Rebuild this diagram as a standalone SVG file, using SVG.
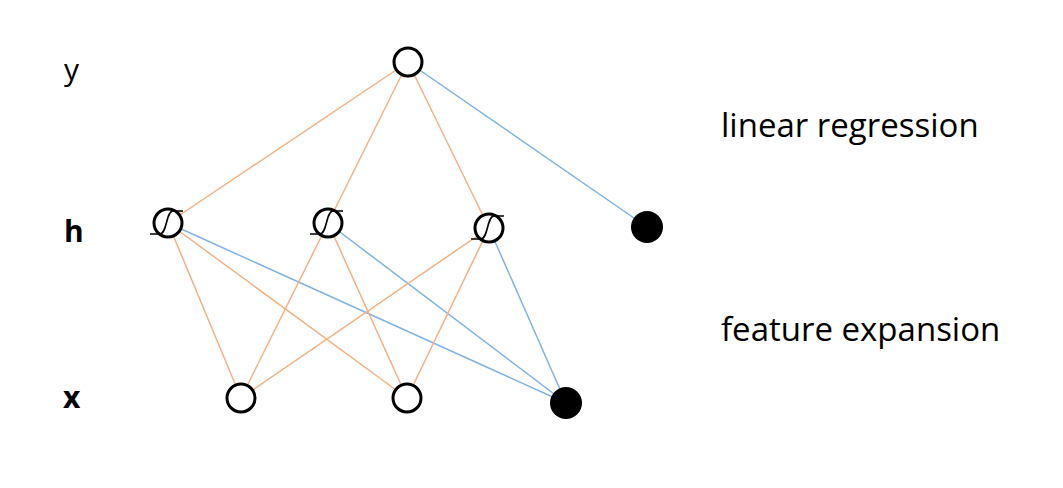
<svg xmlns="http://www.w3.org/2000/svg" width="1063" height="488" viewBox="0 0 1063 488">
<style>
.o{stroke:#f4b183;stroke-width:1.5;fill:none}
.b{stroke:#7fb2e5;stroke-width:1.5;fill:none}
.n{fill:#fff;stroke:#000;stroke-width:3}
.f{fill:#000}
.s{fill:none;stroke:#000;stroke-width:1.6}
.t{font-family:"Open Sans","Liberation Sans",sans-serif;fill:#000}
</style>
<defs>
<path id="sig" class="s" d="M-18,11 H-8 C-1,11 -2,-12 5,-12 H15"/>
</defs>
<rect width="1063" height="488" fill="#fff"/>
<g id="connectors">
<line class="o" x1="408" y1="62" x2="168" y2="223"/>
<line class="o" x1="408" y1="62" x2="328" y2="223"/>
<line class="o" x1="408" y1="62" x2="489" y2="228"/>
<line class="b" x1="408" y1="62" x2="647" y2="227"/>
<line class="o" x1="168" y1="223" x2="241" y2="398"/>
<line class="o" x1="168" y1="223" x2="407" y2="398"/>
<line class="b" x1="168" y1="223" x2="566" y2="403"/>
<line class="o" x1="328" y1="223" x2="241" y2="398"/>
<line class="o" x1="328" y1="223" x2="407" y2="398"/>
<line class="b" x1="328" y1="223" x2="566" y2="403"/>
<line class="o" x1="489" y1="228" x2="241" y2="398"/>
<line class="o" x1="489" y1="228" x2="407" y2="398"/>
<line class="b" x1="489" y1="228" x2="566" y2="403"/>
</g>
<g id="y"><circle class="n" cx="408" cy="62" r="14"/></g>
<g id="h1"><circle class="n" cx="168" cy="223" r="14"/><use href="#sig" x="168" y="223"/></g>
<g id="h2"><circle class="n" cx="328" cy="223" r="14"/><use href="#sig" x="328" y="223"/></g>
<g id="h3"><circle class="n" cx="489" cy="228" r="14"/><use href="#sig" x="489" y="228"/></g>
<g id="bh"><circle class="f" cx="647" cy="227" r="16"/></g>
<g id="x1"><circle class="n" cx="241" cy="398" r="14"/></g>
<g id="x2"><circle class="n" cx="407" cy="398" r="14"/></g>
<g id="bx"><circle class="f" cx="566" cy="403" r="16"/></g>
<g id="labels">
<text class="t" x="64" y="80" font-size="30">y</text>
<text class="t" x="64" y="242" font-size="30" font-weight="bold">h</text>
<text class="t" x="63" y="408" font-size="30" font-weight="bold">x</text>
<text class="t" x="721" y="137" font-size="33">linear regression</text>
<text class="t" x="721" y="341" font-size="33">feature expansion</text>
</g>
</svg>
